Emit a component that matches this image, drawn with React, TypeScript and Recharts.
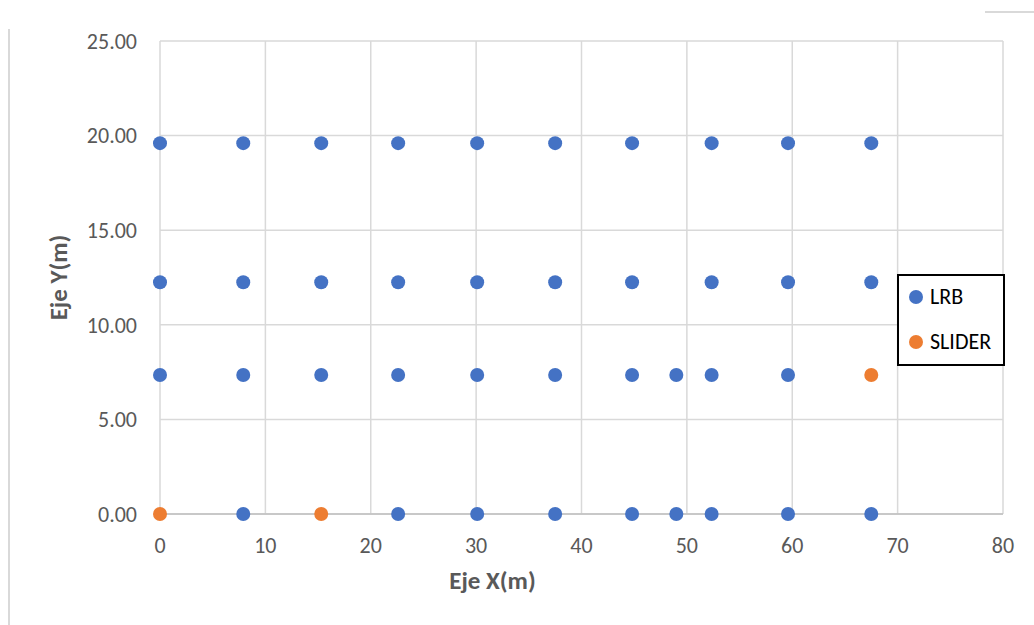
import React from "react";
import {
  ScatterChart,
  Scatter,
  XAxis,
  YAxis,
  CartesianGrid,
  Legend,
} from "recharts";

// ---- data ----
const rowY = [0, 7.35, 12.25, 19.6];
const lrbRow0X = [7.9, 22.6, 30.1, 37.5, 44.8, 49.0, 52.35, 59.6, 67.5];
const lrbRow1X = [0, 7.9, 15.3, 22.6, 30.1, 37.5, 44.8, 49.0, 52.35, 59.6];
const lrbRow2X = [0, 7.9, 15.3, 22.6, 30.1, 37.5, 44.8, 52.35, 59.6, 67.5];
const lrbRow3X = [0, 7.9, 15.3, 22.6, 30.1, 37.5, 44.8, 52.35, 59.6, 67.5];
const sliderX = [0, 15.3, 67.5];
const sliderY = [0, 0, 7.35];

const xTicks = [0, 10, 20, 30, 40, 50, 60, 70, 80];
const yTicks = [0, 5, 10, 15, 20, 25];

const seriesNames = ["LRB", "SLIDER"];
const seriesColors = ["#4472C4", "#ED7D31"];

const lrbRows = [lrbRow0X, lrbRow1X, lrbRow2X, lrbRow3X];
const lrbData = lrbRows.flatMap((row, i) => row.map((x) => ({ x, y: rowY[i] })));
const sliderData = sliderX.map((x, i) => ({ x, y: sliderY[i] }));

const FONT = "Carlito, Calibri, Lato, sans-serif";
const GREY = "#595959";

const Dot = (color: string) => (p: any) => (
  <circle cx={p.cx} cy={p.cy} r={7} fill={color} />
);

const LegendBox = (props: any) => {
  const payload = props.payload || [];
  return (
    <div
      style={{
        boxSizing: "border-box",
        width: 108,
        height: 92,
        border: "2px solid #000",
        background: "#fff",
        paddingTop: 10,
        paddingLeft: 10,
        fontFamily: FONT,
        fontSize: 22,
        color: "#000",
      }}
    >
      {payload.map((e: any, i: number) => (
        <div
          key={i}
          style={{
            display: "flex",
            alignItems: "center",
            height: 22,
            lineHeight: "22px",
            marginBottom: 23,
          }}
        >
          <span
            style={{
              display: "inline-block",
              width: 14,
              height: 14,
              borderRadius: 7,
              background: e.color,
              marginRight: 7,
              flexShrink: 0,
            }}
          />
          <span>{e.value}</span>
        </div>
      ))}
    </div>
  );
};

const XTitle = (props: any) => {
  const vb = props.viewBox;
  return (
    <text
      x={vb.x + vb.width / 2 - 89}
      y={vb.y + 75}
      textAnchor="middle"
      fontFamily={FONT}
      fontWeight="bold"
      fontSize={25}
      fill={GREY}
    >
      Eje X(m)
    </text>
  );
};

const YTitle = (props: any) => {
  const vb = props.viewBox;
  const cx = vb.x + 7;
  const cy = vb.y + vb.height / 2;
  return (
    <text
      x={cx}
      y={cy}
      textAnchor="middle"
      transform={`rotate(-90, ${cx}, ${cy})`}
      fontFamily={FONT}
      fontWeight="bold"
      fontSize={25}
      fill={GREY}
    >
      Eje Y(m)
    </text>
  );
};

export default function App() {
  return (
    <div
      style={{
        position: "absolute",
        left: 0,
        top: 0,
        width: 1034,
        height: 625,
        background: "#fff",
      }}
    >
      <div
        style={{
          position: "absolute",
          left: 8,
          top: 29,
          width: 2,
          height: 596,
          background: "#d9d9d9",
        }}
      />
      <div
        style={{
          position: "absolute",
          left: 985,
          top: 11,
          width: 49,
          height: 2,
          background: "#d9d9d9",
        }}
      />
      <ScatterChart
        width={1034}
        height={625}
        margin={{ top: 41, right: 31, bottom: 14, left: 60 }}
      >
        <CartesianGrid stroke="#d9d9d9" strokeWidth={1.5} />
        <XAxis
          type="number"
          dataKey="x"
          domain={[0, 80]}
          ticks={xTicks}
          height={97}
          tickSize={0}
          tickMargin={23}
          tickLine={false}
          axisLine={{ stroke: "#bfbfbf", strokeWidth: 1.5 }}
          tick={{ fill: GREY, fontSize: 22, fontFamily: FONT }}
          label={<XTitle />}
        />
        <YAxis
          type="number"
          dataKey="y"
          domain={[0, 25]}
          ticks={yTicks}
          width={100}
          tickSize={0}
          tickMargin={23}
          tickLine={false}
          axisLine={false}
          tickFormatter={(v: number) => v.toFixed(2)}
          tick={{ fill: GREY, fontSize: 22, fontFamily: FONT }}
          label={<YTitle />}
        />
        <Legend
          layout="horizontal"
          align="center"
          verticalAlign="middle"
          content={<LegendBox />}
          wrapperStyle={{ left: 897, top: 274, width: 108, height: 92 }}
        />
        <Scatter
          name={seriesNames[0]}
          data={lrbData}
          fill={seriesColors[0]}
          shape={Dot(seriesColors[0])}
          isAnimationActive={false}
        />
        <Scatter
          name={seriesNames[1]}
          data={sliderData}
          fill={seriesColors[1]}
          shape={Dot(seriesColors[1])}
          isAnimationActive={false}
        />
      </ScatterChart>
    </div>
  );
}
